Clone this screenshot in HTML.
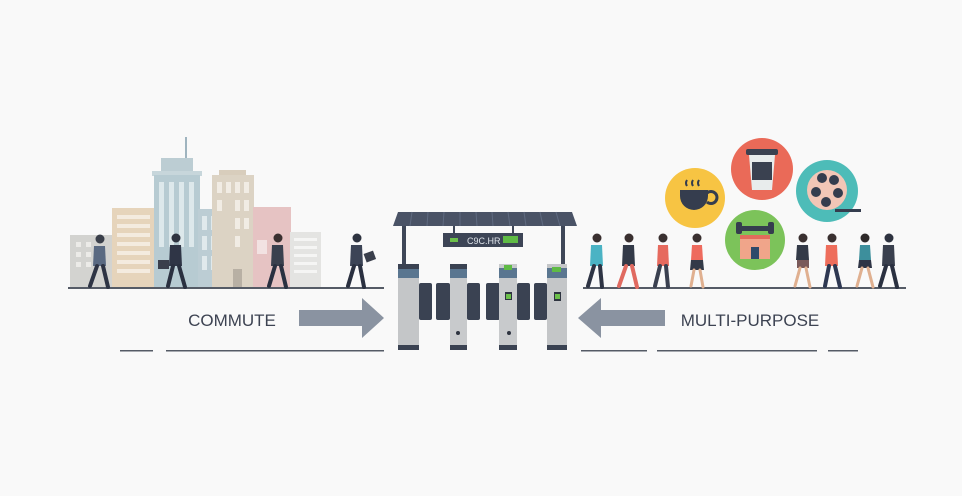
<!DOCTYPE html>
<html><head><meta charset="utf-8"><style>
html,body{margin:0;padding:0;background:#f9f9f9;}
svg{display:block}
</style></head><body>
<svg width="962" height="496" viewBox="0 0 962 496" xmlns="http://www.w3.org/2000/svg" font-family="Liberation Sans, sans-serif">
<rect width="962" height="496" fill="#f9f9f9"/>
<!-- buildings -->
<rect x="70" y="235" width="44" height="53" fill="#d3d3d0"/>
<g fill="#ecebe8"><rect x="76" y="242" width="5" height="5"/><rect x="86" y="242" width="5" height="5"/><rect x="76" y="252" width="5" height="5"/><rect x="86" y="252" width="5" height="5"/><rect x="76" y="262" width="5" height="5"/><rect x="86" y="262" width="5" height="5"/></g>
<rect x="112" y="208" width="43" height="80" fill="#e6d4bb"/>
<g fill="#f4ebdf"><rect x="117" y="215" width="33" height="4"/><rect x="117" y="224" width="33" height="4"/><rect x="117" y="233" width="33" height="4"/><rect x="117" y="242" width="33" height="4"/><rect x="117" y="251" width="33" height="4"/><rect x="117" y="260" width="33" height="4"/><rect x="117" y="269" width="33" height="4"/></g>
<rect x="185" y="137" width="2" height="22" fill="#9fb4bf"/>
<rect x="161" y="158" width="32" height="14" fill="#bccdd3"/>
<rect x="152" y="171" width="50" height="5" fill="#c7d6db"/>
<rect x="154" y="175" width="46" height="113" fill="#b7cbd2"/>
<g fill="#dde8eb"><rect x="159" y="182" width="5" height="65"/><rect x="169" y="182" width="5" height="65"/><rect x="179" y="182" width="5" height="65"/><rect x="189" y="182" width="5" height="65"/></g>
<rect x="198" y="209" width="30" height="79" fill="#bccdd4"/>
<g fill="#e0e9ec"><rect x="202" y="216" width="5" height="14"/><rect x="211" y="216" width="5" height="14"/><rect x="220" y="216" width="5" height="14"/><rect x="202" y="236" width="5" height="14"/><rect x="211" y="236" width="5" height="14"/><rect x="220" y="236" width="5" height="14"/><rect x="202" y="256" width="5" height="14"/><rect x="211" y="256" width="5" height="14"/></g>
<rect x="219" y="170" width="27" height="6" fill="#d8cdbc"/>
<rect x="212" y="175" width="42" height="113" fill="#dcd3c4"/>
<g fill="#f1ece4"><rect x="217" y="182" width="5" height="11"/><rect x="226" y="182" width="5" height="11"/><rect x="235" y="182" width="5" height="11"/><rect x="244" y="182" width="5" height="11"/><rect x="217" y="200" width="5" height="11"/><rect x="235" y="200" width="5" height="11"/><rect x="244" y="200" width="5" height="11"/><rect x="235" y="218" width="5" height="11"/><rect x="244" y="218" width="5" height="11"/><rect x="235" y="236" width="5" height="11"/></g>
<rect x="233" y="269" width="9" height="19" fill="#b8b0a4"/>
<rect x="253" y="207" width="38" height="81" fill="#e6c3c3"/>
<rect x="257" y="240" width="10" height="14" fill="#f2e2e2"/>
<rect x="290" y="232" width="31" height="56" fill="#e4e4e2"/>
<g fill="#f5f5f4"><rect x="294" y="238" width="23" height="3"/><rect x="294" y="246" width="23" height="3"/><rect x="294" y="254" width="23" height="3"/><rect x="294" y="262" width="23" height="3"/><rect x="294" y="270" width="23" height="3"/></g>
<!-- ground lines -->
<rect x="68" y="287" width="316" height="2" fill="#555b66"/>
<rect x="583" y="287" width="323" height="2" fill="#555b66"/>
<!-- left people -->
<g stroke-linecap="round">
<g transform="translate(100,288)"><circle cy="-49" r="4.5" fill="#3a3f4a"/><path d="M-6,-42 h11 l1,20 h-13z" fill="#5a6a82"/><path d="M-3,-22 L-10,-2 M3,-22 L8,-1" stroke="#2e3444" stroke-width="4"/></g>
<g transform="translate(176,288)"><circle cy="-50" r="4.5" fill="#2e3340"/><path d="M-6,-43 h11 l1,21 h-13z" fill="#2f3546"/><path d="M-3,-22 L-8,-2 M3,-22 L9,-1" stroke="#2a3040" stroke-width="4"/><rect x="-18" y="-28" width="11" height="9" fill="#3a3f4c"/></g>
<g transform="translate(278,288)"><circle cy="-50" r="4.5" fill="#3a3030"/><path d="M-6,-43 h11 l1,21 h-13z" fill="#3a404e"/><path d="M-3,-22 L-9,-2 M3,-22 L8,-1" stroke="#2a3040" stroke-width="4"/></g>
<g transform="translate(357,288)"><circle cy="-50" r="4.5" fill="#2e3340"/><path d="M-6,-43 h11 l1,21 h-13z" fill="#3c4456"/><path d="M-3,-22 L-9,-2 M3,-22 L7,-1" stroke="#2a3040" stroke-width="4"/><rect x="8" y="-36" width="10" height="9" fill="#3a3f4c" transform="rotate(-20 13 -31)"/></g>
</g>
<!-- right people -->
<g stroke-linecap="round">
<g transform="translate(597,288)"><circle cy="-50" r="4.5" fill="#3a3030"/><path d="M-6,-43 h11 l1,21 h-13z" fill="#4bb3c4"/><path d="M-3,-22 L-9,-2 M3,-22 L5,-1" stroke="#2e3444" stroke-width="4"/></g>
<g transform="translate(629,288)"><circle cy="-50" r="4.5" fill="#3a3030"/><path d="M-6,-43 h11 l1,21 h-13z" fill="#333a48"/><path d="M-3,-22 L-10,-2 M3,-22 L8,-1" stroke="#e06a60" stroke-width="4"/></g>
<g transform="translate(663,288)"><circle cy="-50" r="4.5" fill="#3a3030"/><path d="M-5,-43 h10 l1,21 h-12z" fill="#e66a5e"/><path d="M-3,-22 L-8,-2 M3,-22 L5,-1" stroke="#3a4050" stroke-width="4"/></g>
<g transform="translate(697,288)"><circle cy="-50" r="4.5" fill="#3a3030"/><path d="M-5,-43 h10 l1,15 h-12z" fill="#ee6b5e"/><path d="M-6,-28 h12 l1,10 h-14z" fill="#333a48"/><path d="M-3,-18 L-6,-2 M3,-18 L6,-1" stroke="#e0b090" stroke-width="3"/></g>
<g transform="translate(803,288)"><circle cy="-50" r="4.5" fill="#3a3030"/><path d="M-6,-43 h11 l1,15 h-13z" fill="#333a48"/><path d="M-6,-28 h12 v8 h-12z" fill="#7a5a5a"/><path d="M-3,-20 L-8,-2 M3,-20 L7,-1" stroke="#e0b090" stroke-width="3"/></g>
<g transform="translate(832,288)"><circle cy="-50" r="4.5" fill="#3a3030"/><path d="M-6,-43 h11 l1,21 h-13z" fill="#ee6e5c"/><path d="M-3,-22 L-7,-2 M3,-22 L8,-1" stroke="#2e3852" stroke-width="4"/></g>
<g transform="translate(865,288)"><circle cy="-50" r="4.5" fill="#2e2a2a"/><path d="M-5,-43 h10 l1,15 h-12z" fill="#3d8f9c"/><path d="M-6,-28 h12 l1,8 h-14z" fill="#2f3546"/><path d="M-3,-20 L-8,-2 M3,-20 L8,-1" stroke="#e0b090" stroke-width="3"/></g>
<g transform="translate(889,288)"><circle cy="-50" r="4.5" fill="#2e3340"/><path d="M-6,-43 h11 l1,21 h-13z" fill="#3a404e"/><path d="M-3,-22 L-9,-2 M3,-22 L8,-1" stroke="#2a3040" stroke-width="4"/></g>
</g>
<!-- circles -->
<circle cx="695" cy="198" r="30" fill="#f7c443"/>
<path d="M680,190 h28 v6 a14,14 0 0 1 -28,0z" fill="#353d4e"/>
<path d="M707,193 a6,6 0 1 1 0,9" fill="none" stroke="#353d4e" stroke-width="3"/>
<path d="M687,180 q-2,3 0,6 M693,180 q-2,3 0,6 M699,180 q-2,3 0,6" stroke="#353d4e" stroke-width="2" fill="none"/>
<circle cx="762" cy="169" r="31" fill="#ea6a58"/>
<rect x="746" y="149" width="32" height="6" rx="2" fill="#3a4150"/>
<path d="M749,155 h26 l-3,35 h-20z" fill="#e8ecec"/>
<rect x="752" y="162" width="20" height="18" fill="#3a4150"/>
<circle cx="827" cy="191" r="31" fill="#4dbcb8"/>
<circle cx="827" cy="190" r="20" fill="#f2c6b6"/>
<g fill="#353d4e"><circle cx="822" cy="178" r="5"/><circle cx="834" cy="180" r="5"/><circle cx="816" cy="192" r="5"/><circle cx="838" cy="193" r="5"/><circle cx="826" cy="202" r="5"/></g>
<rect x="835" y="209" width="26" height="3" fill="#353d4e"/>
<circle cx="755" cy="240" r="30" fill="#7cc35a"/>
<rect x="738" y="226" width="34" height="5" fill="#353d4e"/>
<rect x="736" y="222" width="6" height="12" rx="2" fill="#353d4e"/><rect x="768" y="222" width="6" height="12" rx="2" fill="#353d4e"/>
<rect x="740" y="235" width="30" height="24" fill="#f0a58a"/>
<rect x="740" y="235" width="30" height="4" fill="#e26c5c"/>
<rect x="751" y="247" width="8" height="12" fill="#2e4a6a"/>
<!-- gate -->
<path d="M398,212 h174 l5,14 h-184z" fill="#4a5366"/>
<g stroke="#5f6a80" stroke-width="1"><line x1="412" y1="212" x2="410" y2="226"/><line x1="428" y1="212" x2="427" y2="226"/><line x1="444" y1="212" x2="443" y2="226"/><line x1="460" y1="212" x2="460" y2="226"/><line x1="476" y1="212" x2="477" y2="226"/><line x1="492" y1="212" x2="493" y2="226"/><line x1="508" y1="212" x2="510" y2="226"/><line x1="524" y1="212" x2="526" y2="226"/><line x1="540" y1="212" x2="543" y2="226"/><line x1="556" y1="212" x2="560" y2="226"/></g>
<rect x="402" y="226" width="4" height="40" fill="#3f4758"/><rect x="561" y="226" width="4" height="40" fill="#3f4758"/>
<rect x="453" y="226" width="2" height="8" fill="#3f4758"/><rect x="512" y="226" width="2" height="8" fill="#3f4758"/>
<rect x="443" y="233" width="80" height="14" fill="#3d4556"/>
<rect x="450" y="238" width="8" height="4" fill="#6cc04a"/>
<text x="467" y="244" font-size="9" fill="#dfe4ea">C9C.HR</text>
<rect x="503" y="236" width="15" height="7" fill="#5fbb45"/>
<g fill="#3a4252"><rect x="419" y="283" width="13" height="37" rx="2"/><rect x="436" y="283" width="14" height="37" rx="2"/><rect x="467" y="283" width="13" height="37" rx="2"/><rect x="486" y="283" width="14" height="37" rx="2"/><rect x="517" y="283" width="13" height="37" rx="2"/><rect x="534" y="283" width="13" height="37" rx="2"/></g>
<g>
<rect x="398" y="264" width="21" height="86" fill="#c4c6c8"/><rect x="398" y="264" width="21" height="14" fill="#5a7690"/><rect x="398" y="264" width="21" height="5" fill="#3a4252"/><rect x="398" y="345" width="21" height="5" fill="#3a4252"/>
<rect x="450" y="264" width="17" height="86" fill="#c8cacc"/><rect x="450" y="264" width="17" height="14" fill="#5a7690"/><rect x="450" y="264" width="17" height="5" fill="#3a4252"/><rect x="450" y="345" width="17" height="5" fill="#3a4252"/><circle cx="458" cy="333" r="2" fill="#2e3440"/>
<rect x="499" y="264" width="18" height="86" fill="#c8cacc"/><rect x="499" y="268" width="18" height="10" fill="#5a7690"/><rect x="504" y="265" width="8" height="5" fill="#5fbb45"/><rect x="505" y="292" width="7" height="8" fill="#2e3440"/><rect x="506" y="294" width="5" height="5" fill="#6cc04a"/><rect x="499" y="345" width="18" height="5" fill="#3a4252"/><circle cx="509" cy="333" r="2" fill="#2e3440"/>
<rect x="547" y="264" width="20" height="86" fill="#c4c6c8"/><rect x="547" y="268" width="20" height="10" fill="#5a7690"/><rect x="552" y="267" width="9" height="5" fill="#5fbb45"/><rect x="554" y="292" width="7" height="9" fill="#2e3440"/><rect x="555" y="294" width="5" height="5" fill="#6cc04a"/><rect x="547" y="345" width="20" height="5" fill="#3a4252"/>
</g>
<!-- arrows -->
<path d="M299,310 h63 v-12 l22,20 l-22,20 v-12 h-63z" fill="#8a93a1"/>
<path d="M665,310 h-64 v-12 l-23,20 l23,20 v-12 h64z" fill="#8a93a1"/>
<!-- labels -->
<text x="232" y="326" font-size="17" fill="#3d4352" text-anchor="middle">COMMUTE</text>
<text x="750" y="326" font-size="17" fill="#3d4352" text-anchor="middle">MULTI-PURPOSE</text>
<!-- baseline segments -->
<g fill="#555b66"><rect x="120" y="350" width="33" height="1.5"/><rect x="166" y="350" width="218" height="1.5"/><rect x="581" y="350" width="66" height="1.5"/><rect x="657" y="350" width="160" height="1.5"/><rect x="828" y="350" width="30" height="1.5"/></g>
</svg>
</body></html>
